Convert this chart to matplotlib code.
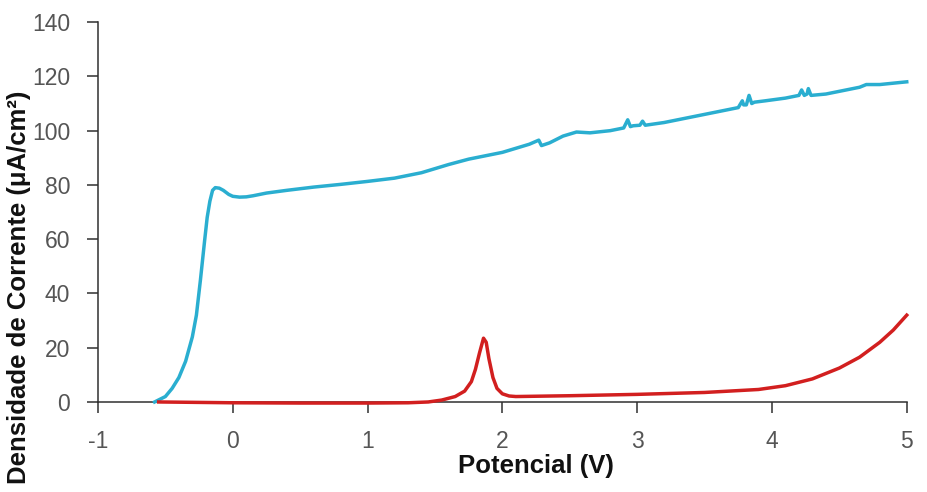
import matplotlib
matplotlib.use('Agg')
import matplotlib.pyplot as plt

plt.rcParams['font.family'] = ['Liberation Sans', 'DejaVu Sans']

# blue curve (upper)
pot_blue = [-0.58, -0.5, -0.45, -0.4, -0.35, -0.3, -0.27, -0.24, -0.21, -0.19, -0.17, -0.15,
            -0.13, -0.1, -0.07, -0.03, 0.0, 0.05, 0.1, 0.15, 0.25, 0.4, 0.6, 0.8, 1.0, 1.2,
            1.4, 1.6, 1.75, 1.9, 2.0, 2.1, 2.2, 2.27, 2.29, 2.35, 2.45, 2.55, 2.65, 2.8,
            2.9, 2.93, 2.95, 2.97, 3.02, 3.04, 3.06, 3.2, 3.4, 3.6, 3.75, 3.78, 3.79, 3.81,
            3.83, 3.85, 3.87, 3.95, 4.1, 4.2, 4.22, 4.24, 4.26, 4.27, 4.29, 4.4, 4.55, 4.65,
            4.7, 4.8, 4.9, 5.0]
dens_blue = [0, 2, 5, 9, 15, 24, 32, 45, 59, 68, 74, 78,
             79, 78.8, 78, 76.5, 75.8, 75.5, 75.6, 76, 77, 78, 79.2, 80.2, 81.3, 82.5,
             84.5, 87.5, 89.5, 91, 92, 93.5, 95, 96.5, 94.5, 95.5, 98, 99.5, 99.2, 100,
             101, 104, 101.5, 101.8, 102, 103.5, 102, 103, 105, 107, 108.5, 111, 109.5, 109.5,
             113, 110, 110.5, 111, 112, 113, 115, 113, 113.5, 115.5, 113, 113.5, 115, 116,
             117, 117, 117.5, 118]

# red curve (lower)
pot_red = [-0.55, 0.0, 0.5, 1.0, 1.3, 1.45, 1.55, 1.65, 1.72, 1.77, 1.8, 1.83, 1.86, 1.88,
           1.9, 1.93, 1.96, 2.0, 2.05, 2.1, 2.5, 3.0, 3.5, 3.9, 4.1, 4.3, 4.5, 4.65, 4.8,
           4.9, 5.0]
dens_red = [0, -0.3, -0.4, -0.4, -0.3, 0, 0.7, 2, 4, 7.5, 12, 18, 23.5, 22,
            16, 9, 5, 3, 2.2, 2, 2.3, 2.8, 3.5, 4.6, 6, 8.5, 12.5, 16.5, 22,
            26.5, 32]

xticks = [-1, 0, 1, 2, 3, 4, 5]
yticks = [0, 20, 40, 60, 80, 100, 120, 140]

fig = plt.figure(figsize=(9.28, 4.92), dpi=100)
ax = fig.add_axes([0.1056, 0.183, 0.8715, 0.772])

ax.plot(pot_blue, dens_blue, color='#2aaed0', lw=2.5, clip_on=False, zorder=3)
ax.plot(pot_red, dens_red, color='#d21f1f', lw=2.5, clip_on=False, zorder=3)

ax.set_xlim(-1, 5)
ax.set_ylim(0, 140)
ax.set_xticks(xticks)
ax.set_yticks(yticks)
ax.set_xticklabels([str(t) for t in xticks])
ax.set_yticklabels([str(t) for t in yticks])

for s in ['top', 'right']:
    ax.spines[s].set_visible(False)
for s in ['left', 'bottom']:
    ax.spines[s].set_color('#303030')
    ax.spines[s].set_linewidth(1.1)
ax.tick_params(axis='both', direction='out', length=8, width=1.1, color='#303030',
               labelsize=16.5, labelcolor='#555555')
ax.tick_params(axis='x', pad=12)
ax.tick_params(axis='y', pad=12)

ax.set_xlabel('Potencial (V)', fontsize=18.5, fontweight='bold', color='#111111')
ax.set_ylabel('Densidade de Corrente (μA/cm²)', fontsize=18.5, fontweight='bold',
              color='#111111')
ax.xaxis.set_label_coords(0.541, -0.136)
ax.yaxis.set_label_coords(-0.083, 0.303)

fig.savefig('out.png', dpi=100)
